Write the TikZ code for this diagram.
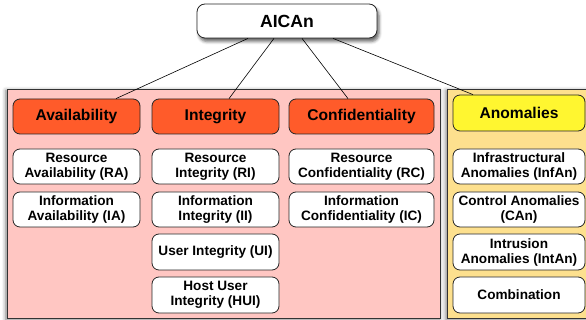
\documentclass[tikz,border=0pt]{standalone}
\usepackage{fontspec}
\setmainfont{Liberation Sans}
\usetikzlibrary{calc,shadows.blur}
\definecolor{pinkbg}{RGB}{255,198,194}
\definecolor{yelbg}{RGB}{253,224,142}
\definecolor{hdrorange}{RGB}{255,91,42}
\definecolor{hdryellow}{RGB}{255,246,48}
\begin{document}
\begin{tikzpicture}[x=1pt,y=-1pt,
  bg/.style={draw=black!80, line width=0.8pt, inner sep=0pt, minimum height=229pt,
    blur shadow={shadow xshift=-1pt, shadow yshift=-1.5pt, shadow blur radius=4pt, shadow opacity=55}},
  rbox/.style={draw=black!85, line width=0.8pt, rounded corners=7pt, inner sep=0pt, align=center,
    fill=white, minimum height=35pt, font=\fontsize{13.6}{15}\selectfont\bfseries},
  hdr/.style={rbox, fill=hdrorange, font=\fontsize{15.6}{18}\selectfont\bfseries},
  link/.style={draw=black, line width=0.6pt},
  w1/.style={minimum width=127pt},
  w3/.style={minimum width=145pt},
  w4/.style={minimum width=132pt}]
\useasboundingbox (0,0) rectangle (586,320);
% backgrounds
\node[bg, fill=pinkbg, minimum width=433pt] (pink) at (223.5,203.5) {};
\node[bg, fill=yelbg, minimum width=143pt] (yel) at (518.5,203.5) {};
% top
\node[rbox, minimum width=180pt, minimum height=34pt, rounded corners=8pt,
  font=\fontsize{17.6}{20}\selectfont\bfseries,
  blur shadow={shadow xshift=2pt, shadow yshift=-3.5pt, shadow blur radius=3pt, shadow opacity=60}] (top) at (287,21) {AICAn};
% headers
\node[hdr, w1] (av) at (76.5,116.5) {Availability};
\node[hdr, w1] (in) at (215.5,116.5) {Integrity};
\node[hdr, w3] (co) at (361.5,116.5) {Confidentiality};
\node[hdr, w4, fill=hdryellow, minimum height=36pt] (an) at (519,113) {Anomalies};
% connectors
\draw[link] ($(top.south)+(-39,0)$) -- ($(av.north)+(39.5,0)$);
\draw[link] ($(top.south)+(-13,0)$) -- ($(in.north)+(13.5,0)$);
\draw[link] ($(top.south)+(15,0)$) -- ($(co.north)+(-13.5,0)$);
\draw[link] ($(top.south)+(46,0)$) -- ($(an.north)+(-46,0)$);
% availability column
\node[rbox, w1] (ra) at (76.5,166.5) {Resource\\Availability (RA)};
\node[rbox, w1] (ia) at (76.5,209.5) {Information\\Availability (IA)};
% integrity column
\node[rbox, w1] (ri) at (215.5,166.5) {Resource\\Integrity (RI)};
\node[rbox, w1] (ii) at (215.5,209.5) {Information\\Integrity (II)};
\node[rbox, w1, minimum height=36pt] (ui) at (215.5,252) {User Integrity (UI)};
\node[rbox, w1, minimum height=36pt] (hui) at (215.5,295) {Host User\\Integrity (HUI)};
% confidentiality column
\node[rbox, w3] (rc) at (361.5,166.5) {Resource\\Confidentiality (RC)};
\node[rbox, w3] (ic) at (361.5,209.5) {Information\\Confidentiality (IC)};
% anomalies column
\node[rbox, w4] (inf) at (519,166.5) {Infrastructural\\Anomalies (InfAn)};
\node[rbox, w4] (can) at (519,209.5) {Control Anomalies\\(CAn)};
\node[rbox, w4, minimum height=36pt] (int) at (519,252) {Intrusion\\Anomalies (IntAn)};
\node[rbox, w4, minimum height=36pt] (comb) at (519,295) {Combination};
\end{tikzpicture}
\end{document}
